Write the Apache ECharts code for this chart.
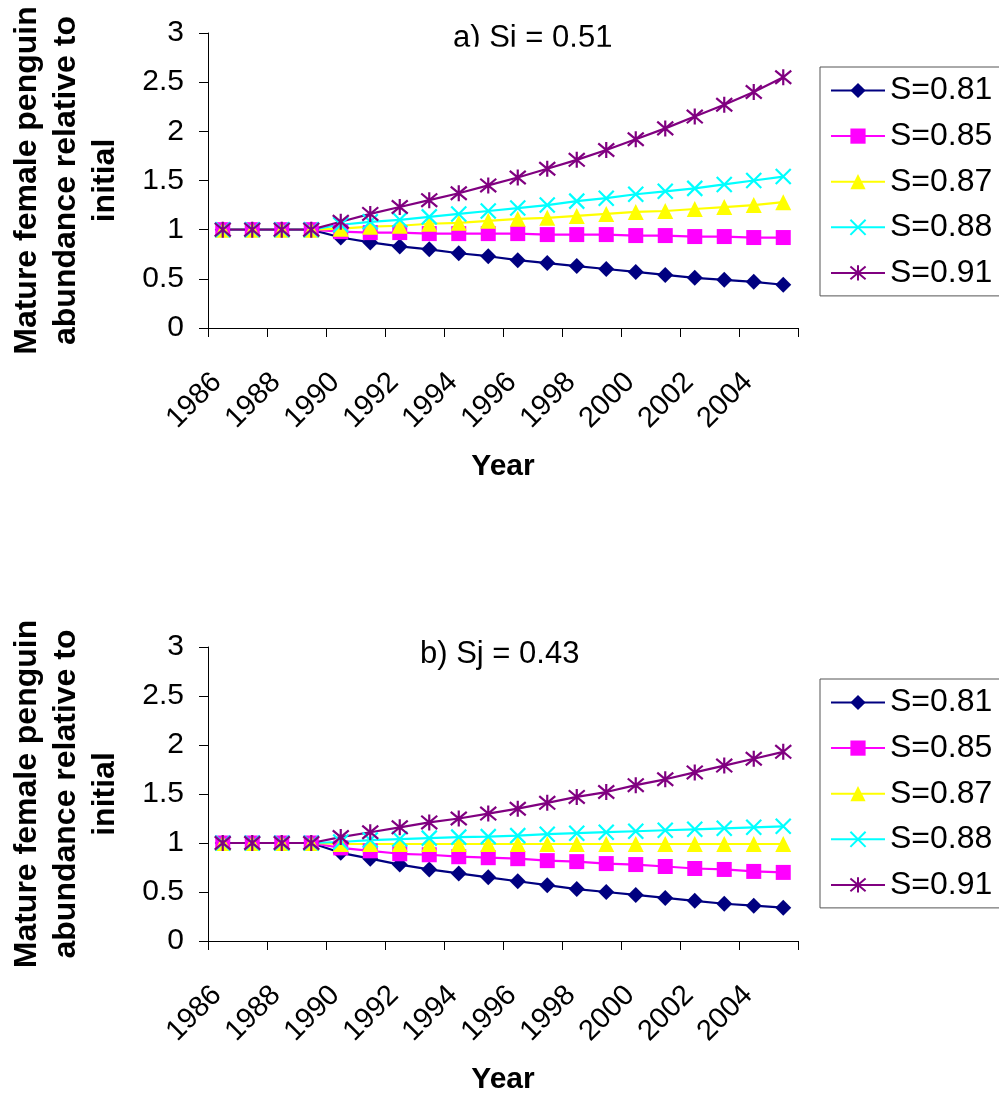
<!DOCTYPE html>
<html>
<head>
<meta charset="utf-8">
<script src="https://cdn.jsdelivr.net/npm/echarts@6/dist/echarts.min.js"></script>
<style>
html,body{margin:0;padding:0;background:#fff;}
#chart{width:999px;height:1097px;}
</style>
</head>
<body>
<div id="chart"></div>
<script>
var years = ['1986','1987','1988','1989','1990','1991','1992','1993','1994','1995','1996','1997','1998','1999','2000','2001','2002','2003','2004','2005'];
var seriesNames = ['S=0.81','S=0.85','S=0.87','S=0.88','S=0.91'];
var yTicks = [0, 0.5, 1, 1.5, 2, 2.5, 3];
var titleA = 'a) Sj = 0.51';
var titleB = 'b) Sj = 0.43';

// Panel a) Sj = 0.51
var a81 = [1,1,1,1,0.92,0.87,0.83,0.80,0.76,0.73,0.69,0.66,0.63,0.60,0.57,0.54,0.51,0.49,0.47,0.44];
var a85 = [1,1,1,1,0.98,0.97,0.97,0.96,0.96,0.96,0.96,0.95,0.95,0.95,0.94,0.94,0.93,0.93,0.92,0.92];
var a87 = [1,1,1,1,1.01,1.03,1.04,1.06,1.07,1.09,1.11,1.12,1.14,1.16,1.18,1.19,1.21,1.23,1.25,1.28];
var a88 = [1,1,1,1,1.05,1.08,1.10,1.13,1.16,1.19,1.22,1.25,1.29,1.32,1.36,1.39,1.42,1.46,1.50,1.54];
var a91 = [1,1,1,1,1.08,1.16,1.23,1.30,1.37,1.45,1.53,1.62,1.71,1.81,1.92,2.03,2.15,2.27,2.40,2.55];

// Panel b) Sj = 0.43
var b81 = [1,1,1,1,0.90,0.84,0.78,0.73,0.69,0.65,0.61,0.57,0.53,0.50,0.47,0.44,0.41,0.38,0.36,0.34];
var b85 = [1,1,1,1,0.95,0.92,0.89,0.88,0.86,0.85,0.84,0.82,0.81,0.79,0.78,0.76,0.74,0.73,0.71,0.70];
var b87 = [1,1,1,1,0.99,0.99,0.99,0.99,0.99,0.99,0.99,0.99,0.99,0.99,0.99,0.99,0.99,0.99,0.99,0.99];
var b88 = [1,1,1,1,1.01,1.03,1.04,1.05,1.06,1.065,1.075,1.09,1.10,1.11,1.12,1.13,1.14,1.15,1.16,1.17];
var b91 = [1,1,1,1,1.06,1.11,1.16,1.21,1.25,1.30,1.35,1.41,1.47,1.52,1.59,1.65,1.72,1.79,1.86,1.93];

var colors = ['#000080','#FF00FF','#FFFF00','#00FFFF','#800080'];
var symbols = ['diamond','rect','triangle','path://M0,0L10,10M10,0L0,10','path://M0,0L10,10M10,0L0,10M5,-1L5,11'];
var symbolSizes = [16,15,16,15,16];

var FONT = '"Liberation Sans", Arial, sans-serif';

function makeSeries(dataList, idx) {
  return dataList.map(function (d, i) {
    var isPath = i >= 3;
    return {
      name: seriesNames[i],
      type: 'line',
      xAxisIndex: idx,
      yAxisIndex: idx,
      data: d,
      symbol: symbols[i],
      symbolSize: symbolSizes[i],
      showAllSymbol: true,
      animation: false,
      lineStyle: {color: colors[i], width: 2.2},
      itemStyle: {color: colors[i], borderColor: colors[i], borderWidth: isPath ? 2.2 : 0, opacity: 1},
      emphasis: {disabled: true}
    };
  });
}

function makeXAxis(idx) {
  return {
    type: 'category',
    gridIndex: idx,
    data: years,
    boundaryGap: true,
    name: 'Year',
    nameLocation: 'middle',
    nameGap: 124,
    nameTextStyle: {fontFamily: FONT, fontSize: 30, fontWeight: 'bold', color: '#000'},
    axisLine: {show: true, lineStyle: {color: '#000', width: 1}},
    axisTick: {show: true, length: 9, lineStyle: {color: '#000'}},
    axisLabel: {interval: 1, rotate: 45, margin: 44, padding: [0, 8, 0, 0], fontFamily: FONT, fontSize: 29, color: '#000'},
    splitLine: {show: false}
  };
}

function makeYAxis(idx) {
  return {
    type: 'value',
    gridIndex: idx,
    min: yTicks[0],
    max: yTicks[yTicks.length - 1],
    interval: 0.5,
    name: 'Mature female penguin\nabundance relative to\ninitial',
    nameLocation: 'middle',
    nameRotate: 90,
    nameGap: 83,
    nameTextStyle: {fontFamily: FONT, fontSize: 32, fontWeight: 'bold', color: '#000', lineHeight: 39, align: 'center'},
    axisLine: {show: true, lineStyle: {color: '#000', width: 1}},
    axisTick: {show: true, length: 9, lineStyle: {color: '#000'}},
    axisLabel: {margin: 24, fontFamily: FONT, fontSize: 30, color: '#000'},
    splitLine: {show: false}
  };
}

function makeLegend(top) {
  return {
    orient: 'vertical',
    left: 820,
    top: top,
    data: seriesNames,
    itemWidth: 54,
    itemHeight: 19,
    itemGap: 13.6,
    padding: [7.5, 30, 7, 10],
    borderColor: '#555',
    borderWidth: 1,
    backgroundColor: '#fff',
    selectedMode: false,
    textStyle: {fontFamily: FONT, fontSize: 32, color: '#000', lineHeight: 32, padding: [0, 0, 0, 0]}
  };
}

var chart = echarts.init(document.getElementById('chart'), null, {renderer: 'canvas'});
var option = {
  backgroundColor: '#fff',
  animation: false,
  title: [
    {text: titleA, left: 453, top: 23, padding: 0, textStyle: {fontFamily: FONT, fontSize: 31, fontWeight: 'normal', color: '#000'}},
    {text: titleB, left: 420, top: 639, padding: 0, textStyle: {fontFamily: FONT, fontSize: 31, fontWeight: 'normal', color: '#000'}}
  ],
  legend: [makeLegend(67), makeLegend(679)],
  grid: [
    {left: 207, top: 33, width: 591, height: 295, containLabel: false},
    {left: 207, top: 647, width: 591, height: 294, containLabel: false}
  ],
  xAxis: [makeXAxis(0), makeXAxis(1)],
  yAxis: [makeYAxis(0), makeYAxis(1)],
  graphic: [
    {type: 'rect', left: 445, top: 46.7, z: 100, shape: {width: 190, height: 10}, style: {fill: '#fff'}}
  ],
  series: makeSeries([a81, a85, a87, a88, a91], 0).concat(makeSeries([b81, b85, b87, b88, b91], 1))
};
chart.setOption(option);
</script>
</body>
</html>
